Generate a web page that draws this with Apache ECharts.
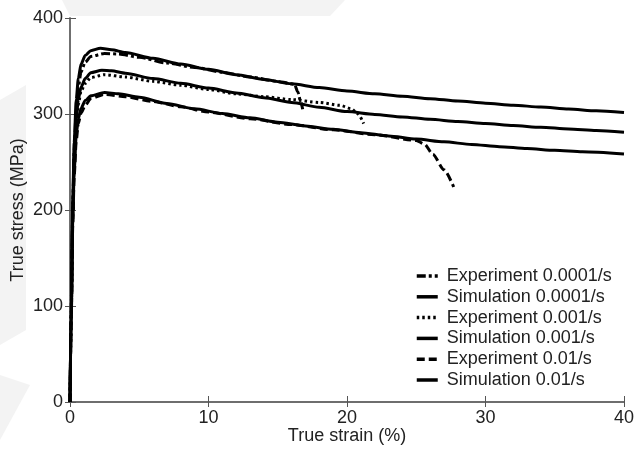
<!DOCTYPE html>
<html>
<head>
<meta charset="utf-8">
<script src="https://cdn.jsdelivr.net/npm/echarts@6/dist/echarts.min.js"></script>
<style>
  html, body { margin: 0; padding: 0; background: #fff; }
  #chart { width: 644px; height: 449px; }
</style>
</head>
<body>
<div id="chart"></div>
<script>
// true strain (%) / true stress (MPa) pairs
const simSlow = [[0,0],[0.1,110],[0.2,210],[0.3,270],[0.45,315],[0.6,337],[0.8,352],[1.1,361],[1.5,366],[2.2,368.5],[3,367],[4,364],[6,358],[8,352],[10,346.5],[12,341],[14,336],[16,331.5],[18,327.5],[20,324],[22,321],[24,318.5],[26,316],[28,313.5],[30,311.3],[32,309.2],[34,307.2],[36,305.2],[38,303.3],[40,301.5]]
const simMid = [[0,0],[0.1,105],[0.2,200],[0.3,255],[0.45,295],[0.6,315],[0.8,328],[1.1,337],[1.5,343],[2.3,345.5],[3,345],[4,342.5],[6,337],[8,332],[10,327],[12,322],[14,317],[16,312],[18,307],[20,302.5],[22,299.5],[24,297],[26,294.5],[28,292.2],[30,290],[32,288],[34,286.2],[36,284.4],[38,282.7],[40,281]]
const simFast = [[0,0],[0.1,100],[0.2,190],[0.3,240],[0.45,278],[0.6,295],[0.8,306],[1.1,314],[1.5,319],[2.5,322.5],[3.5,321],[5,317.5],[7,311],[9,305.5],[11,300.5],[13,296],[15,291.5],[17,287.5],[19,284],[21,280.5],[23,277.2],[25,274],[27,271],[29,268.3],[31,266],[33,264],[35,262.2],[37,260.6],[40,258.3]]
const expSlow = [[0,0],[0.1,105],[0.2,205],[0.3,262],[0.45,305],[0.6,328],[0.8,344],[1.1,354],[1.5,360],[2.5,363],[3.5,362.5],[5,359],[7,353],[9,348.5],[11,343.5],[13,338.5],[15,334],[16.2,331],[16.45,323],[16.65,313],[16.8,305]]
const expMid = [[0,0],[0.1,100],[0.2,195],[0.3,250],[0.45,290],[0.6,310],[0.8,324],[1.1,332],[1.5,338],[2.5,341],[4,338.5],[6,334],[8,330],[10,325.5],[12,321],[14,318],[16,315],[18,312],[19.5,309],[20.3,305.5],[20.8,300],[21.2,290]]
const expFast = [[0,0],[0.1,95],[0.2,185],[0.3,235],[0.45,272],[0.6,290],[0.8,301],[1.1,309],[1.5,316],[2.5,320.5],[4,318],[6,313],[8,307.5],[10,302],[13,295],[16,289],[19,283.5],[22,278.5],[25,272.5],[25.6,268.5],[26.2,258],[27,242],[27.7,224]]

const names = ['Experiment 0.0001/s', 'Simulation 0.0001/s', 'Experiment 0.001/s', 'Simulation 0.001/s', 'Experiment 0.01/s', 'Simulation 0.01/s']

const font = '"Liberation Sans", Arial, sans-serif'
const chart = echarts.init(document.getElementById('chart'), null, { renderer: 'canvas' })

function line(name, data, type) {
  return {
    name: name,
    type: 'line',
    data: data,
    symbol: 'none',
    smooth: 0.25,
    smoothMonotone: 'x',
    lineStyle: { color: '#000', width: 3, type: type, cap: 'butt' },
    itemStyle: { color: '#000' },
    animation: false
  }
}

const boxAxis = {
  min: 0,
  axisLine: { show: true, lineStyle: { color: '#666', width: 1.5 } },
  axisTick: { show: true, inside: true, length: 5, lineStyle: { color: '#555' } },
  axisLabel: { show: false },
  splitLine: { show: false }
}

chart.setOption({
  backgroundColor: '#fff',
  graphic: [
    { type: 'polygon', z: -10, shape: { points: [[62,0],[345,0],[330,16],[70,16]] }, style: { fill: '#f3f3f3' } },
    { type: 'polygon', z: -10, shape: { points: [[0,100],[26,85],[26,330],[0,345]] }, style: { fill: '#f3f3f3' } },
    { type: 'polygon', z: -10, shape: { points: [[0,375],[30,385],[0,440]] }, style: { fill: '#f3f3f3' } }
  ],
  grid: { left: 70, right: 20, top: 18, bottom: 47, containLabel: false, outerBoundsMode: 'none' },
  legend: {
    orient: 'vertical',
    left: 410,
    top: 262,
    data: names,
    itemWidth: 21,
    itemHeight: 14,
    itemGap: 2.8,
    itemStyle: { opacity: 0 },
    lineStyle: { width: 3.5 },
    textStyle: { fontFamily: font, fontSize: 18, color: '#222', padding: [0, 0, 0, 4] }
  },
  xAxis: [
    {
      type: 'value', position: 'bottom', min: 0, max: 40, interval: 10,
      name: 'True strain (%)', nameLocation: 'middle', nameGap: 25, nameMoveOverlap: false,
      nameTextStyle: { fontFamily: font, fontSize: 18, color: '#222' },
      axisLine: { show: true, lineStyle: { color: '#666', width: 1.5 } },
      axisTick: { show: true, inside: true, length: 6, lineStyle: { color: '#555' } },
      axisLabel: { fontFamily: font, fontSize: 18, color: '#222', margin: 7 },
      splitLine: { show: false }
    },
    Object.assign({ type: 'value', position: 'top', max: 40, interval: 10 }, boxAxis)
  ],
  yAxis: [
    {
      type: 'value', position: 'left', min: 0, max: 400, interval: 100,
      name: 'True stress (MPa)', nameLocation: 'middle', nameGap: 43, nameMoveOverlap: false,
      nameTextStyle: { fontFamily: font, fontSize: 18, color: '#222' },
      axisLine: { show: true, lineStyle: { color: '#666', width: 1.5 } },
      axisTick: { show: true, inside: true, length: 6, lineStyle: { color: '#555' } },
      axisLabel: { fontFamily: font, fontSize: 18, color: '#222', margin: 7 },
      splitLine: { show: false }
    },
    Object.assign({ type: 'value', position: 'right', max: 400, interval: 100 }, boxAxis)
  ],
  series: [
    line(names[0], expSlow, [9, 3, 3, 3]),
    line(names[1], simSlow, 'solid'),
    line(names[2], expMid, [2.5, 3]),
    line(names[3], simMid, 'solid'),
    line(names[4], expFast, [8, 4]),
    line(names[5], simFast, 'solid')
  ]
})
</script>
</body>
</html>
